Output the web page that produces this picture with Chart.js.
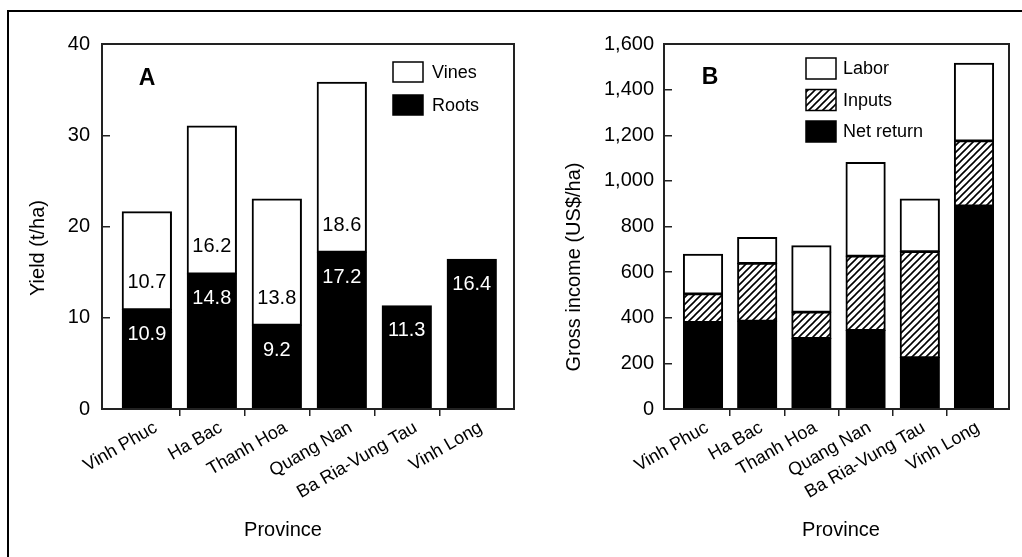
<!DOCTYPE html>
<html>
<head>
<meta charset="utf-8">
<script src="https://cdn.jsdelivr.net/npm/chart.js@4"></script>
<style>
  html, body { margin: 0; padding: 0; background: #fff; }
  body { width: 1022px; height: 557px; position: relative; overflow: hidden; }
  #frame { position: absolute; left: 7px; top: 10px; width: 1100px; height: 700px;
           border-left: 2px solid #000; border-top: 2px solid #000; }
  #panelA { position: absolute; left: 0; top: 0; }
  #panelB { position: absolute; left: 520px; top: 0; }
</style>
</head>
<body>
<div id="frame"></div>
<canvas id="panelA" width="520" height="557"></canvas>
<canvas id="panelB" width="502" height="557"></canvas>
<script>
// Data
const provinces = ['Vinh Phuc', 'Ha Bac', 'Thanh Hoa', 'Quang Nan', 'Ba Ria-Vung Tau', 'Vinh Long']

// Panel A - yield (t/ha)
const rootYield = [10.9, 14.8, 9.2, 17.2, 11.3, 16.4]
const vineYield = [10.7, 16.2, 13.8, 18.6, null, null]
const yieldMax = 40
const yieldStep = 10

// Panel B - gross income (US$/ha)
const netReturn = [380, 385, 310, 345, 225, 890]
const inputCost = [125, 253, 115, 325, 465, 285]
const laborCost = [173, 113, 290, 410, 230, 340]
const incomeMax = 1600
const incomeStep = 200

Chart.defaults.font.family = '"Liberation Sans", Arial, sans-serif'
Chart.defaults.color = '#000'

const FONT = '"Liberation Sans", Arial, sans-serif'

// diagonal hatch for the "Inputs" segments
const hatch = (() => {
    const c = document.createElement('canvas')
    c.width = c.height = 7
    const g = c.getContext('2d')
    g.fillStyle = '#fff'
    g.fillRect(0, 0, 7, 7)
    g.strokeStyle = '#000'
    g.lineWidth = 1.6
    g.beginPath()
    g.moveTo(-1, 8); g.lineTo(8, -1)
    g.moveTo(-1, 1); g.lineTo(1, -1)
    g.moveTo(6, 8); g.lineTo(8, 6)
    g.stroke()
    return g.createPattern(c, 'repeat')
})()

const toPoints = arr => arr.map((v, i) => ({x: i, y: v}))

// box, panel letter, axis titles, legend and value labels
const panelExtras = {
    id: 'panelExtras',
    afterDatasetsDraw(chart, args, o) {
        const ctx = chart.ctx
        const a = chart.chartArea
        ctx.save()
        ctx.strokeStyle = '#222'
        ctx.lineWidth = 2
        ctx.strokeRect(a.left, a.top, a.right - a.left, a.bottom - a.top)

        ctx.textAlign = 'center'
        ctx.textBaseline = 'middle'
        if (o.values) {
            ctx.font = '20px ' + FONT
            const roots = chart.getDatasetMeta(0)
            const vines = chart.getDatasetMeta(1)
            roots.data.forEach((el, i) => {
                if (rootYield[i] == null) return
                ctx.fillStyle = '#fff'
                ctx.fillText(rootYield[i].toFixed(1), el.x, el.y + 25)
            })
            vines.data.forEach((el, i) => {
                if (vineYield[i] == null) return
                ctx.fillStyle = '#000'
                ctx.fillText(vineYield[i].toFixed(1), el.x, el.base - 27)
            })
        }

        ctx.fillStyle = '#000'
        ctx.font = 'bold 23px ' + FONT
        ctx.fillText(o.letter, o.letterX, o.letterY)

        ctx.font = '20px ' + FONT
        ctx.fillText(o.xTitle, o.xTitleX, o.xTitleY)
        ctx.save()
        ctx.translate(o.yTitleX, o.yTitleY)
        ctx.rotate(-Math.PI / 2)
        ctx.fillText(o.yTitle, 0, 0)
        ctx.restore()

        // legend, top item = top of stack
        const L = o.legend
        ctx.font = '18px ' + FONT
        ctx.textAlign = 'left'
        const sets = chart.data.datasets.slice().reverse()
        sets.forEach((ds, k) => {
            const y = L.y + k * L.dy
            ctx.fillStyle = ds.backgroundColor
            ctx.fillRect(L.x, y, L.w, L.h)
            ctx.strokeStyle = '#000'
            ctx.lineWidth = 1.5
            ctx.strokeRect(L.x, y, L.w, L.h)
            ctx.fillStyle = '#000'
            ctx.fillText(ds.label, L.textX, y + L.h / 2 + 1)
        })
        ctx.restore()
    }
}

const barStyle = {
    borderColor: '#000',
    borderWidth: 2,
    borderSkipped: false,
    inflateAmount: 0.6,
    categoryPercentage: 1
}

const makeScales = (xMin, xMax, yMax, yStep, yWidth, shift, yPad) => ({
    x: {
        type: 'linear',
        stacked: true,
        min: xMin,
        max: xMax,
        offset: false,
        afterBuildTicks: s => { s.ticks = provinces.map((p, i) => ({value: i})) },
        afterFit: s => { s.height = 148 },
        ticks: {
            callback: v => provinces[v],
            autoSkip: false,
            minRotation: 30,
            maxRotation: 30,
            labelOffset: shift,
            padding: 1,
            font: {size: 18}
        },
        grid: {
            offset: true,
            drawOnChartArea: false,
            tickLength: 7,
            lineWidth: 1.5,
            color: c => (c.type !== 'tick' || c.index === 0) ? 'rgba(0,0,0,0)' : '#222'
        },
        border: {display: false}
    },
    y: {
        stacked: true,
        min: 0,
        max: yMax,
        afterFit: s => { s.width = yWidth },
        ticks: {
            stepSize: yStep,
            padding: yPad,
            font: {size: 20},
            callback: v => v.toLocaleString('en-US')
        },
        grid: {
            drawOnChartArea: false,
            tickLength: -8,
            lineWidth: 1.5,
            color: '#222'
        },
        border: {display: false}
    }
})

const baseOptions = {
    responsive: false,
    animation: false,
    events: []
}

new Chart(document.getElementById('panelA'), {
    type: 'bar',
    data: {
        datasets: [
            {label: 'Roots', data: toPoints(rootYield), backgroundColor: '#000', barPercentage: 0.755, ...barStyle},
            {label: 'Vines', data: toPoints(vineYield), backgroundColor: '#fff', barPercentage: 0.755, ...barStyle}
        ]
    },
    options: {
        ...baseOptions,
        layout: {padding: {left: 0, top: 44, right: 6, bottom: 0}},
        scales: makeScales(-0.69, 5.65, yieldMax, yieldStep, 102, 9, 20),
        plugins: {
            legend: {display: false},
            tooltip: {enabled: false},
            panelExtras: {
                values: true,
                letter: 'A', letterX: 147, letterY: 79,
                xTitle: 'Province', xTitleX: 283, xTitleY: 530,
                yTitle: 'Yield (t/ha)', yTitleX: 38, yTitleY: 248,
                legend: {x: 393, y: 62, dy: 33, w: 30, h: 20, textX: 432}
            }
        }
    },
    plugins: [panelExtras]
})

new Chart(document.getElementById('panelB'), {
    type: 'bar',
    data: {
        datasets: [
            {label: 'Net return', data: toPoints(netReturn), backgroundColor: '#000', barPercentage: 0.72, ...barStyle},
            {label: 'Inputs', data: toPoints(inputCost), backgroundColor: hatch, barPercentage: 0.72, ...barStyle},
            {label: 'Labor', data: toPoints(laborCost), backgroundColor: '#fff', barPercentage: 0.72, ...barStyle}
        ]
    },
    options: {
        ...baseOptions,
        layout: {padding: {left: 0, top: 44, right: 13, bottom: 0}},
        scales: makeScales(-0.72, 5.646, incomeMax, incomeStep, 144, 4, 18),
        plugins: {
            legend: {display: false},
            tooltip: {enabled: false},
            panelExtras: {
                values: false,
                letter: 'B', letterX: 190, letterY: 78,
                xTitle: 'Province', xTitleX: 321, xTitleY: 530,
                yTitle: 'Gross income (US$/ha)', yTitleX: 54, yTitleY: 267,
                legend: {x: 286, y: 58, dy: 31.5, w: 30, h: 21, textX: 323}
            }
        }
    },
    plugins: [panelExtras]
})
</script>
</body>
</html>
